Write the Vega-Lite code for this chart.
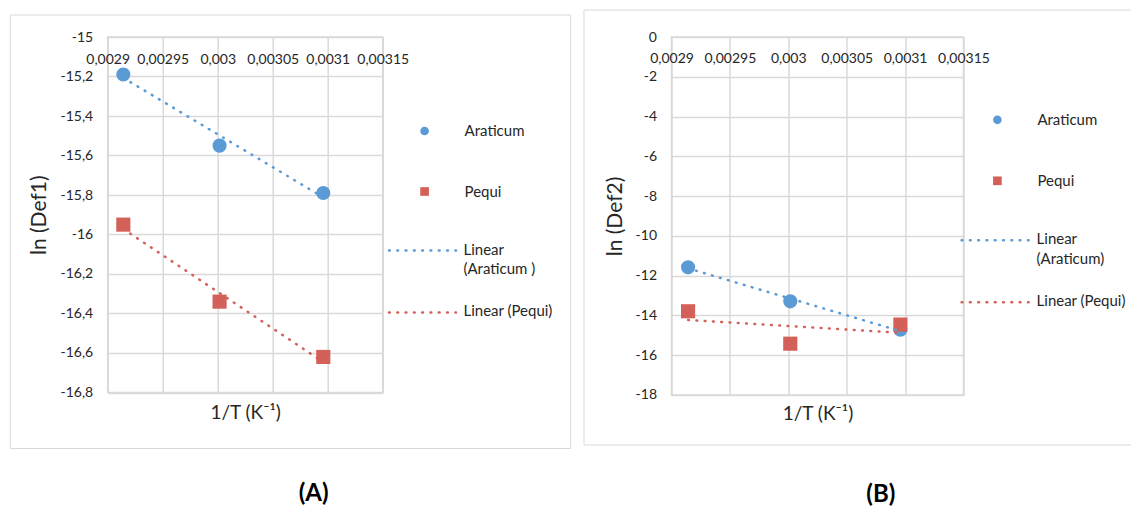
{
  "$schema": "https://vega.github.io/schema/vega-lite/v6.json",
  "background": "white",
  "padding": {"left": 8.7, "top": 8, "right": 0, "bottom": 0},
  "spacing": 288.8,
  "bounds": "flush",
  "datasets": {
    "pointsA": [
      {"series": "Araticum", "x": 0.0029142, "y": -15.19},
      {"series": "Araticum", "x": 0.0030017, "y": -15.55},
      {"series": "Araticum", "x": 0.003096, "y": -15.79},
      {"series": "Pequi", "x": 0.0029142, "y": -15.95},
      {"series": "Pequi", "x": 0.0030017, "y": -16.34},
      {"series": "Pequi", "x": 0.003096, "y": -16.62}
    ],
    "trendA": [
      {"series": "Linear (Araticum )", "x": 0.0029142, "y": -15.207},
      {"series": "Linear (Araticum )", "x": 0.003096, "y": -15.812},
      {"series": "Linear (Pequi)", "x": 0.0029142, "y": -15.972},
      {"series": "Linear (Pequi)", "x": 0.003096, "y": -16.646}
    ],
    "pointsB": [
      {"series": "Araticum", "x": 0.0029142, "y": -11.58},
      {"series": "Araticum", "x": 0.0030017, "y": -13.29},
      {"series": "Araticum", "x": 0.003096, "y": -14.72},
      {"series": "Pequi", "x": 0.0029142, "y": -13.79},
      {"series": "Pequi", "x": 0.0030017, "y": -15.42},
      {"series": "Pequi", "x": 0.003096, "y": -14.46}
    ],
    "trendB": [
      {"series": "Linear (Araticum)", "x": 0.0029142, "y": -11.63},
      {"series": "Linear (Araticum)", "x": 0.003096, "y": -14.79},
      {"series": "Linear (Pequi)", "x": 0.0029142, "y": -14.23},
      {"series": "Linear (Pequi)", "x": 0.003096, "y": -14.87}
    ]
  },
  "config": {
    "font": "Lato",
    "view": {"stroke": "#d9d9d9", "strokeWidth": 1.5},
    "axis": {
      "grid": true, "gridColor": "#d9d9d9", "gridWidth": 1.5, "domain": false, "ticks": false,
      "labelFont": "Lato", "labelFontSize": 14, "labelColor": "#262626",
      "titleFont": "Lato", "titleFontSize": 19, "titleFontWeight": "normal", "titleColor": "#262626",
      "labelFlush": false, "labelOverlap": false, "labelBound": false
    },
    "legend": {"labelFont": "Lato", "labelFontSize": 15, "labelColor": "#262626", "padding": 0}
  },
  "resolve": {
    "scale": {"fill": "independent", "stroke": "independent", "shape": "independent"},
    "legend": {"fill": "independent", "stroke": "independent", "shape": "independent"}
  },
  "hconcat": [
    {
      "width": 275,
      "height": 355.5,
      "title": {"text": "(A)", "orient": "bottom", "anchor": "middle", "frame": "bounds", "dx": 23, "offset": 33.5, "fontSize": 24, "fontWeight": "bold", "color": "#000000", "font": "Lato"},
      "layer": [
        {
          "data": {"values": [{}]},
          "mark": {"type": "rect", "fill": "transparent", "stroke": "#d9d9d9", "strokeWidth": 1, "clip": false},
          "encoding": {
            "x": {"datum": 0.00281155, "type": "quantitative"},
            "x2": {"datum": 0.00332091},
            "y": {"datum": -14.8886, "type": "quantitative"},
            "y2": {"datum": -17.0835}
          }
        },
        {
          "data": {"name": "pointsA"},
          "mark": {"type": "point", "filled": true, "size": 200, "opacity": 1},
          "encoding": {
            "x": {
              "field": "x", "type": "quantitative",
              "scale": {"domain": [0.0029, 0.00315], "nice": false, "zero": false},
              "axis": {
                "orient": "top", "values": [0.0029, 0.00295, 0.003, 0.00305, 0.0031, 0.00315],
                "tickCount": 20, "grid": true, "labelOverlap": false,
                "labelExpr": "replace(toString(datum.value), '.', ',')",
                "labelPadding": -22, "labelBaseline": "middle",
                "title": "1/T (K⁻¹)", "titleY": 376, "titleBaseline": "middle", "titleAnchor": "middle"
              }
            },
            "y": {
              "field": "y", "type": "quantitative",
              "scale": {"domain": [-16.8, -15], "nice": false, "zero": false},
              "axis": {
                "values": [-15, -15.2, -15.4, -15.6, -15.8, -16, -16.2, -16.4, -16.6, -16.8],
                "tickCount": 20, "grid": true, "labelOverlap": false,
                "labelExpr": "replace(toString(datum.value), '.', ',')",
                "labelPadding": 15, "title": "ln (Def1)", "titlePadding": 10, "titleFontSize": 21
              }
            },
            "fill": {
              "field": "series", "type": "nominal",
              "scale": {"domain": ["Araticum", "Pequi"], "range": ["#5B9BD5", "#D4605A"]},
              "legend": {"orient": "none", "legendX": 309.4, "legendY": 86.5, "title": null, "symbolSize": 75, "symbolStrokeWidth": 0, "rowPadding": 44.5, "labelOffset": 32.5}
            },
            "shape": {
              "field": "series", "type": "nominal",
              "scale": {"domain": ["Araticum", "Pequi"], "range": ["circle", "square"]}
            }
          }
        },
        {
          "data": {"name": "trendA"},
          "mark": {"type": "line", "strokeDash": [0.8, 7.5], "strokeWidth": 2.5, "strokeCap": "round"},
          "encoding": {
            "x": {"field": "x", "type": "quantitative"},
            "y": {"field": "y", "type": "quantitative"},
            "stroke": {
              "field": "series", "type": "nominal",
              "scale": {"domain": ["Linear (Araticum )", "Linear (Pequi)"], "range": ["#5B9BD5", "#D4605A"]},
              "legend": {
                "orient": "none", "legendX": 279.8, "legendY": 178.5, "title": null,
                "symbolType": "stroke", "symbolSize": 4489, "symbolStrokeWidth": 2.5, "symbolDash": [0.8, 7.5],
                "rowPadding": -8.6, "labelOffset": 6, "labelBaseline": "top",
                "labelExpr": "datum.label == 'Linear (Araticum )' ? ['Linear', '(Araticum )'] : datum.label",
                "encode": {
                  "symbols": {"update": {"strokeCap": {"value": "round"}}},
                  "labels": {"update": {"dy": {"value": -8}, "lineHeight": {"value": 20}}}
                }
              }
            }
          }
        }
      ]
    },
    {
      "width": 292,
      "height": 358,
      "title": {"text": "(B)", "orient": "bottom", "anchor": "middle", "frame": "bounds", "dx": 23, "offset": 37.5, "fontSize": 24, "fontWeight": "bold", "color": "#000000", "font": "Lato"},
      "layer": [
        {
          "data": {"values": [{}]},
          "mark": {"type": "rule", "stroke": "#d9d9d9", "strokeWidth": 1, "clip": false},
          "encoding": {
            "x": {"datum": 0.0028251, "type": "quantitative"},
            "y": {"datum": 1.3575, "type": "quantitative"},
            "y2": {"datum": -20.514}
          }
        },
        {
          "data": {"values": [{}]},
          "mark": {"type": "rule", "stroke": "#d9d9d9", "strokeWidth": 1, "clip": false},
          "encoding": {
            "x": {"datum": 0.0028251, "type": "quantitative"},
            "x2": {"datum": 0.003294},
            "y": {"datum": 1.3575, "type": "quantitative"}
          }
        },
        {
          "data": {"values": [{}]},
          "mark": {"type": "rule", "stroke": "#d9d9d9", "strokeWidth": 1, "clip": false},
          "encoding": {
            "x": {"datum": 0.0028251, "type": "quantitative"},
            "x2": {"datum": 0.003294},
            "y": {"datum": -20.514, "type": "quantitative"}
          }
        },
        {
          "data": {"name": "pointsB"},
          "mark": {"type": "point", "filled": true, "size": 200, "opacity": 1},
          "encoding": {
            "x": {
              "field": "x", "type": "quantitative",
              "scale": {"domain": [0.0029, 0.00315], "nice": false, "zero": false},
              "axis": {
                "orient": "top", "values": [0.0029, 0.00295, 0.003, 0.00305, 0.0031, 0.00315],
                "tickCount": 20, "grid": true, "labelOverlap": false,
                "labelExpr": "replace(toString(datum.value), '.', ',')",
                "labelPadding": -21.5, "labelBaseline": "middle",
                "title": "1/T (K⁻¹)", "titleY": 377, "titleBaseline": "middle", "titleAnchor": "middle"
              }
            },
            "y": {
              "field": "y", "type": "quantitative",
              "scale": {"domain": [-18, 0], "nice": false, "zero": false},
              "axis": {
                "values": [0, -2, -4, -6, -8, -10, -12, -14, -16, -18],
                "tickCount": 20, "grid": true, "labelOverlap": false,
                "labelExpr": "replace(toString(datum.value), '.', ',')",
                "labelPadding": 15, "title": "ln (Def2)", "titlePadding": 10, "titleFontSize": 21
              }
            },
            "fill": {
              "field": "series", "type": "nominal",
              "scale": {"domain": ["Araticum", "Pequi"], "range": ["#5B9BD5", "#D4605A"]},
              "legend": {"orient": "none", "legendX": 318.4, "legendY": 75.3, "title": null, "symbolSize": 75, "symbolStrokeWidth": 0, "rowPadding": 45, "labelOffset": 32.5}
            },
            "shape": {
              "field": "series", "type": "nominal",
              "scale": {"domain": ["Araticum", "Pequi"], "range": ["circle", "square"]}
            }
          }
        },
        {
          "data": {"name": "trendB"},
          "mark": {"type": "line", "strokeDash": [0.8, 7.5], "strokeWidth": 2.5, "strokeCap": "round"},
          "encoding": {
            "x": {"field": "x", "type": "quantitative"},
            "y": {"field": "y", "type": "quantitative"},
            "stroke": {
              "field": "series", "type": "nominal",
              "scale": {"domain": ["Linear (Araticum)", "Linear (Pequi)"], "range": ["#5B9BD5", "#D4605A"]},
              "legend": {
                "orient": "none", "legendX": 288.6, "legendY": 168.3, "title": null,
                "symbolType": "stroke", "symbolSize": 4489, "symbolStrokeWidth": 2.5, "symbolDash": [0.8, 7.5],
                "rowPadding": -10, "labelOffset": 6.5, "labelBaseline": "top",
                "labelExpr": "datum.label == 'Linear (Araticum)' ? ['Linear', '(Araticum)'] : datum.label",
                "encode": {
                  "symbols": {"update": {"strokeCap": {"value": "round"}}},
                  "labels": {"update": {"dy": {"value": -8}, "lineHeight": {"value": 20}}}
                }
              }
            }
          }
        }
      ]
    }
  ]
}
